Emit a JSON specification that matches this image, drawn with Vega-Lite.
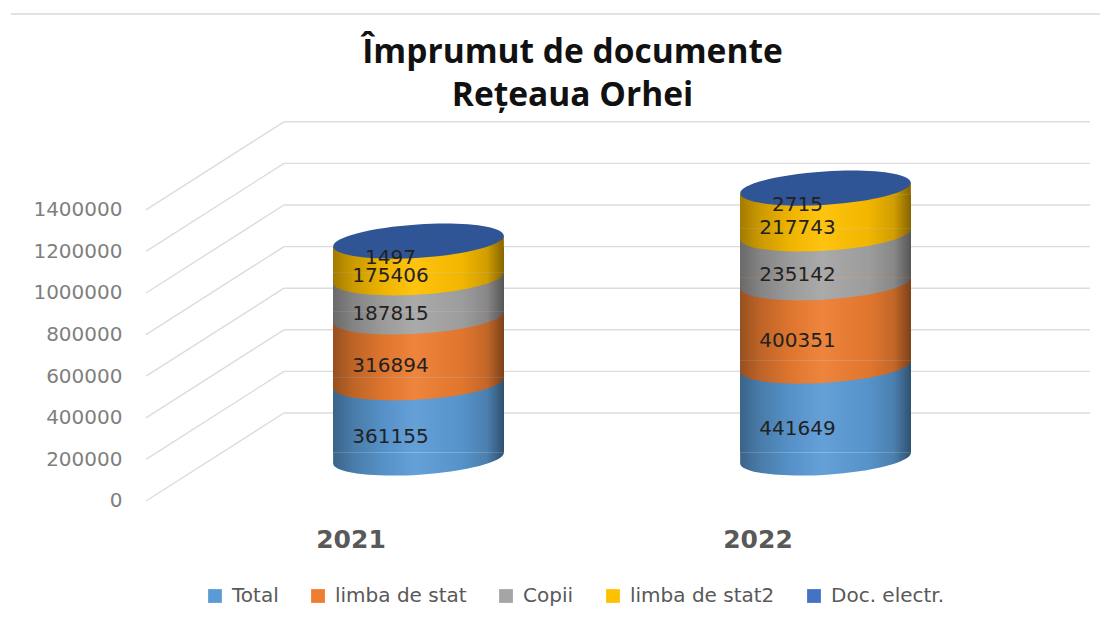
{
"$schema":"https://vega.github.io/schema/vega-lite/v6.json",
"width":955,"height":410,
"autosize":{"type":"none"},
"padding":{"left":148,"top":110,"right":0,"bottom":101},
"background":"white",
"config":{"view":{"stroke":null}},
"title":{"text":["Împrumut de documente","Rețeaua Orhei"],"font":"Open Sans","fontSize":33.5,"fontWeight":"bold","color":"#111111","lineHeight":43,"anchor":"middle","dx":-53,"offset":-100},
"datasets":{
"main":[
{"year":2021,"series":"Total","idx":1,"value":361155},
{"year":2021,"series":"limba de stat","idx":2,"value":316894},
{"year":2021,"series":"Copii","idx":3,"value":187815},
{"year":2021,"series":"limba de stat2","idx":4,"value":175406},
{"year":2021,"series":"Doc. electr.","idx":5,"value":1497},
{"year":2022,"series":"Total","idx":1,"value":441649},
{"year":2022,"series":"limba de stat","idx":2,"value":400351},
{"year":2022,"series":"Copii","idx":3,"value":235142},
{"year":2022,"series":"limba de stat2","idx":4,"value":217743},
{"year":2022,"series":"Doc. electr.","idx":5,"value":2715}
],
"grid":[{"tick":0},{"tick":200000},{"tick":400000},{"tick":600000},{"tick":800000},{"tick":1000000},{"tick":1200000},{"tick":1400000}]
},
"data":{"name":"main"},
"transform":[{"stack":"value","groupby":["year"],"sort":[{"field":"idx","order":"ascending"}],"as":["v0","v1"]}],
"resolve":{"scale":{"x":"shared","y":"shared"}},
"layer":[
{"data":{"name":"grid"},"transform":[],"mark":{"type":"rule","color":"#dcdcdc","strokeWidth":1.4,"yOffset":2,"y2Offset":-86},
 "encoding":{
  "x":{"datum":2020.3305,"type":"quantitative","scale":{"domain":[2020.33538,2022.68182],"nice":false,"zero":false,"padding":0},
   "axis":{"values":[2021,2022],"format":"d","title":null,"grid":false,"domain":false,"ticks":false,"labelFontSize":25,"labelFontWeight":"bold","labelColor":"#595959","labelFont":"DejaVu Sans","labelOffset":-68,"labelPadding":7,"labelFlush":false}},
  "x2":{"datum":2020.6695},
  "y":{"field":"tick","type":"quantitative","scale":{"domain":[-100962,1870192],"nice":false,"zero":false,"padding":0},
   "axis":{"values":[0,200000,400000,600000,800000,1000000,1200000,1400000],"format":"d","title":null,"grid":false,"domain":false,"ticks":false,"labelFontSize":20,"labelColor":"#7f7f7f","labelFont":"DejaVu Sans","labelPadding":26,"labelOffset":2,"labelOverlap":false}},
  "y2":{"field":"tick"}
 }},
{"data":{"name":"grid"},"transform":[],"mark":{"type":"rule","color":"#dcdcdc","strokeWidth":1.4,"yOffset":-86,"y2Offset":-86},
 "encoding":{
  "x":{"datum":2020.6695,"type":"quantitative"},
  "x2":{"datum":2022.6499},
  "y":{"field":"tick","type":"quantitative"},
  "y2":{"field":"tick"}
 }},
{"data":{"values":[{"edge":2331731}]},"transform":[],"mark":{"type":"rule","color":"#d9d9d9","strokeWidth":1.4},
 "encoding":{
  "x":{"datum":2019.9988,"type":"quantitative"},
  "x2":{"datum":2022.6745},
  "y":{"field":"edge","type":"quantitative"}
 }},
{"transform":[{"filter":"datum.idx <= 3"}],"mark":{"type":"bar","size":171,"orient":"vertical","yOffset":-46.5,"y2Offset":-46.5},
 "encoding":{
  "x":{"field":"year","type":"quantitative"},
  "y":{"field":"v0","type":"quantitative"},
  "y2":{"field":"v1"},
  "color":{"field":"series","type":"nominal","sort":null,
   "scale":{"domain":["Total","limba de stat","Copii","limba de stat2","Doc. electr."],"range":["#5b9bd5","#ed7d31","#a5a5a5","#ffc000","#4472c4"]},
   "legend":{"orient":"none","legendX":57,"legendY":476,"direction":"horizontal","title":null,"symbolType":"square","symbolSize":190,"symbolStrokeWidth":0,"labelFontSize":20,"labelColor":"#595959","labelFont":"DejaVu Sans","columnPadding":29,"labelOffset":7}}
 }},
{"transform":[{"filter":"datum.idx == 4"}],"mark":{"type":"bar","size":171,"orient":"vertical","yOffset":-46.5,"y2Offset":-35.5},
 "encoding":{
  "x":{"field":"year","type":"quantitative"},
  "y":{"field":"v0","type":"quantitative"},
  "y2":{"field":"v1"},
  "color":{"field":"series","type":"nominal","sort":null}
 }},
{"transform":[{"filter":"datum.idx <= 4"}],"mark":{"type":"point","filled":true,"opacity":1,"size":29241,"yOffset":-41,"shape":"M-0.998,-0.064 L0.998,-0.064 A1,0.195 -3.7 0 1 -0.998,0.064 Z"},
 "encoding":{
  "x":{"field":"year","type":"quantitative"},
  "y":{"field":"v0","type":"quantitative"},
  "color":{"field":"series","type":"nominal","sort":null},
  "order":{"field":"idx","type":"quantitative"}
 }},
{"transform":[{"filter":"datum.idx == 4"}],"mark":{"type":"point","filled":true,"opacity":1,"size":29241,"yOffset":-41,"shape":"M-0.998,0.064 L0.998,-0.064 L0.998,0.064 Z"},
 "encoding":{
  "x":{"field":"year","type":"quantitative"},
  "y":{"field":"v1","type":"quantitative"},
  "color":{"field":"series","type":"nominal","sort":null}
 }},
{"transform":[{"filter":"datum.idx <= 3"}],"mark":{"type":"bar","size":171,"orient":"vertical","yOffset":-46.5,"y2Offset":-46.5,
  "color":{"gradient":"linear","x1":0,"y1":0,"x2":1,"y2":0,"stops":[{"offset":0,"color":"rgba(0,0,0,0.36)"},{"offset":0.12,"color":"rgba(0,0,0,0.2)"},{"offset":0.3,"color":"rgba(0,0,0,0.06)"},{"offset":0.48,"color":"rgba(255,255,255,0.06)"},{"offset":0.75,"color":"rgba(0,0,0,0.05)"},{"offset":0.9,"color":"rgba(0,0,0,0.18)"},{"offset":1,"color":"rgba(0,0,0,0.48)"}]}},
 "encoding":{
  "x":{"field":"year","type":"quantitative"},
  "y":{"field":"v0","type":"quantitative"},
  "y2":{"field":"v1"}
 }},
{"transform":[{"filter":"datum.idx == 4"}],"mark":{"type":"bar","size":171,"orient":"vertical","yOffset":-46.5,"y2Offset":-35.5,
  "color":{"gradient":"linear","x1":0,"y1":0,"x2":1,"y2":0,"stops":[{"offset":0,"color":"rgba(0,0,0,0.36)"},{"offset":0.12,"color":"rgba(0,0,0,0.2)"},{"offset":0.3,"color":"rgba(0,0,0,0.06)"},{"offset":0.48,"color":"rgba(255,255,255,0.06)"},{"offset":0.75,"color":"rgba(0,0,0,0.05)"},{"offset":0.9,"color":"rgba(0,0,0,0.18)"},{"offset":1,"color":"rgba(0,0,0,0.48)"}]}},
 "encoding":{
  "x":{"field":"year","type":"quantitative"},
  "y":{"field":"v0","type":"quantitative"},
  "y2":{"field":"v1"}
 }},
{"transform":[{"filter":"datum.idx == 1"}],
 "mark":{"type":"point","filled":true,"opacity":1,"size":29241,"yOffset":-41,"shape":"M-0.998,-0.064 L0.998,-0.064 A1,0.195 -3.7 0 1 -0.998,0.064 Z",
  "color":{"gradient":"linear","x1":0,"y1":0,"x2":1,"y2":0,"stops":[{"offset":0,"color":"rgba(0,0,0,0.36)"},{"offset":0.12,"color":"rgba(0,0,0,0.2)"},{"offset":0.3,"color":"rgba(0,0,0,0.06)"},{"offset":0.48,"color":"rgba(255,255,255,0.06)"},{"offset":0.75,"color":"rgba(0,0,0,0.05)"},{"offset":0.9,"color":"rgba(0,0,0,0.18)"},{"offset":1,"color":"rgba(0,0,0,0.48)"}]}},
 "encoding":{
  "x":{"field":"year","type":"quantitative"},
  "y":{"field":"v0","type":"quantitative"}
 }},
{"transform":[{"filter":"datum.idx == 4"}],
 "mark":{"type":"point","filled":true,"opacity":1,"size":29241,"yOffset":-41,"shape":"M-0.998,0.064 L0.998,-0.064 L0.998,0.064 Z",
  "color":{"gradient":"linear","x1":0,"y1":0,"x2":1,"y2":0,"stops":[{"offset":0,"color":"rgba(0,0,0,0.36)"},{"offset":0.12,"color":"rgba(0,0,0,0.2)"},{"offset":0.3,"color":"rgba(0,0,0,0.06)"},{"offset":0.48,"color":"rgba(255,255,255,0.06)"},{"offset":0.75,"color":"rgba(0,0,0,0.05)"},{"offset":0.9,"color":"rgba(0,0,0,0.18)"},{"offset":1,"color":"rgba(0,0,0,0.48)"}]}},
 "encoding":{
  "x":{"field":"year","type":"quantitative"},
  "y":{"field":"v1","type":"quantitative"}
 }},
{"transform":[{"filter":"datum.idx == 5"}],
 "mark":{"type":"point","filled":true,"opacity":1,"color":"#2f5597","size":29241,"yOffset":-41,"shape":"M-0.998,0.064 A1,0.195 -3.7 0 0 0.998,-0.064 A1,0.195 -3.7 0 0 -0.998,0.064 Z"},
 "encoding":{
  "x":{"field":"year","type":"quantitative"},
  "y":{"field":"v1","type":"quantitative"}
 }},
{"mark":{"type":"text","font":"DejaVu Sans","fontSize":20,"color":"#222222","xOffset":-28,"yOffset":-24.5},
 "encoding":{
  "x":{"field":"year","type":"quantitative"},
  "y":{"field":"value","type":"quantitative","stack":"zero","bandPosition":0.5},
  "detail":{"field":"series"},
  "order":{"field":"idx","type":"quantitative"},
  "text":{"field":"value","type":"quantitative","format":"d"}
 }}
]
}
